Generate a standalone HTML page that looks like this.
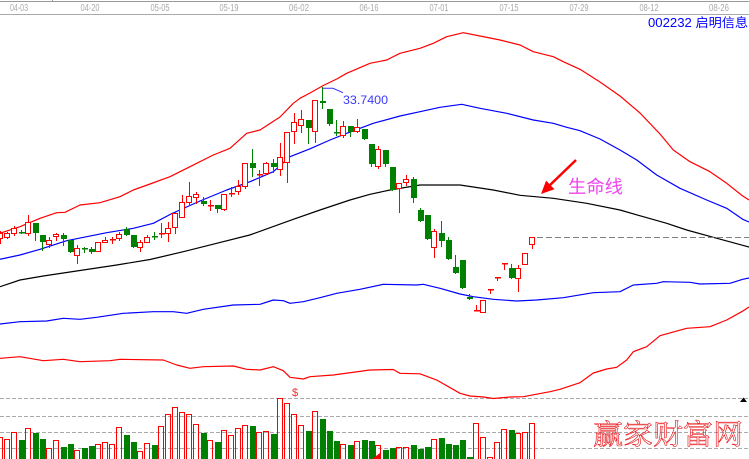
<!DOCTYPE html>
<html>
<head>
<meta charset="utf-8">
<style>
html,body{margin:0;padding:0;background:#fff;}
body{width:749px;height:459px;overflow:hidden;}
svg{display:block;}
</style>
</head>
<body>
<svg id="c" width="749" height="459" viewBox="0 0 749 459" xmlns="http://www.w3.org/2000/svg">
<rect x="0" y="0" width="749" height="459" fill="#fff"/>
<!-- top axis -->
<line x1="0" y1="1.5" x2="749" y2="1.5" stroke="#999" stroke-width="1"/>
<line x1="52.5" y1="0" x2="52.5" y2="2" stroke="#999" stroke-width="1"/>
<line x1="0" y1="14.5" x2="749" y2="14.5" stroke="#aaa" stroke-width="1"/>
<g font-family="Liberation Sans, sans-serif" font-size="10" fill="#aaa" text-anchor="middle">
<text x="19" y="11" textLength="18" lengthAdjust="spacingAndGlyphs">04-03</text>
<text x="90" y="11" textLength="19" lengthAdjust="spacingAndGlyphs">04-20</text>
<text x="160" y="11" textLength="19" lengthAdjust="spacingAndGlyphs">05-05</text>
<text x="229" y="11" textLength="19" lengthAdjust="spacingAndGlyphs">05-19</text>
<text x="299" y="11" textLength="20" lengthAdjust="spacingAndGlyphs">06-02</text>
<text x="369" y="11" textLength="19" lengthAdjust="spacingAndGlyphs">06-16</text>
<text x="439" y="11" textLength="19" lengthAdjust="spacingAndGlyphs">07-01</text>
<text x="509" y="11" textLength="19" lengthAdjust="spacingAndGlyphs">07-15</text>
<text x="579" y="11" textLength="19" lengthAdjust="spacingAndGlyphs">07-29</text>
<text x="649" y="11" textLength="19" lengthAdjust="spacingAndGlyphs">08-12</text>
<text x="719" y="11" textLength="20" lengthAdjust="spacingAndGlyphs">08-26</text>
</g>
<text x="648" y="27" font-family="Liberation Sans, 'Noto Sans CJK SC', sans-serif" font-size="12.5" fill="#0000ff" textLength="100" lengthAdjust="spacingAndGlyphs">002232 启明信息</text>

<!-- volume dashed grid -->
<g stroke="#aaa" stroke-width="1" stroke-dasharray="4 2">
<line x1="0" y1="398.5" x2="749" y2="398.5"/>
<line x1="0" y1="416.5" x2="749" y2="416.5"/>
<line x1="0" y1="432.5" x2="749" y2="432.5"/>
<line x1="0" y1="448.5" x2="749" y2="448.5"/>
</g>
<polygon points="740,402 747,402 743.5,397.5" fill="#000"/>

<!-- bands -->
<g fill="none" stroke-width="1.2" stroke-linejoin="round">
<polyline stroke="#ff0000" points="0,233.3 20,226.7 40,218.3 56.7,212.7 65,212.3 80,205 100,202.7 120,196.7 133.3,190 150,184 170,176.7 190,166.7 213.3,155 230,148.3 246.7,133.3 260,130 280,117 293.3,103.3 300,98.3 310,93 323.3,85.5 336.7,79 346.7,73.3 370,63.3 386.7,60 400,53.3 420,48.3 433.3,43.3 446.7,36.7 463.3,32.7 480,36 500,40 520,45 533.3,51.7 553.3,56.7 563.3,61.7 580,69.3 600,82 620,96 640,113 660,134 673.3,150 690,161.7 710,171.7 726.7,183.3 742.7,196 749,200"/>
<polyline stroke="#0000ff" points="0,259.3 20,255 40,249.3 66.7,240.7 86.7,236.7 106.7,232.7 133.3,228.3 153.3,223.3 172,213.5 200,201 226.7,190 250,181.7 273.3,171.7 290,156.7 310,148.8 330,140 346.7,133.3 373.3,123.3 400,116 420,111.7 440,107.3 461.7,104.3 480,108.3 506.7,113.3 533.3,120 553.3,123.3 566.7,127.3 580,130.7 600,139 620,150 636.7,160 656.7,175 680,188.3 706.7,200 726.7,208.3 742.7,219.3 749,222"/>
<polyline stroke="#000000" points="0,286.7 20,280 43.3,276 83.3,270 116.7,265 150,259.5 183.3,251.7 216.7,243.3 249.7,235 293.3,219.3 320,210 350,200 370,194.3 390,190 420,185 460,185 493.3,190 520,195.3 553.3,198.3 586.7,203.3 620,210 643.3,216.7 666.7,223.3 686.7,230 713.3,237.3 742.7,245.3 749,247"/>
<polyline stroke="#0000ff" points="0,324 20,321.7 46.7,321 63.3,318.3 80,319.3 96.7,317.3 123.3,313.3 153.3,311.7 173.3,311.7 186.7,313.3 203.3,309.3 233.3,305 260,304.3 273.3,300 283.3,300.7 290,303.3 303.3,301.7 320,297.7 336.7,293.3 360,289.3 383.3,284.3 416.7,285 423.3,284.3 440,288.3 460,294 473.3,296.7 493.3,299.3 516.7,301 536.7,300 563.3,297.7 593.3,292.7 620,291.7 633.3,285 656.7,283.3 663.3,281.7 690,282.3 700,284 730,283.3 742.7,279.3 749,278"/>
<polyline stroke="#ff0000" points="0,358.3 20,356.7 43.3,360.7 63.3,359.3 80,361.7 110,360.7 120,359.3 163.3,360 176.7,365 190,368.3 203.3,366.7 233.3,366 246.7,369.3 260,370 273.3,366.7 283.3,370.7 290,377.3 303.3,379 310,376.7 333.3,375 370,370 393.3,369.5 400,373.3 420,373.8 436.7,380 460,393.3 470,396 483.3,397 493.3,398.5 510,397 523.3,396.7 550,391.7 560,389.3 580,382.7 593.3,373 606.7,369 616.7,367.3 626.7,360 633.3,351.7 646.7,346.7 660,335.7 686.7,328.3 710,326.7 726.7,320 741.7,311.7 749,307"/>
</g>

<!-- dashed price line -->
<line x1="537" y1="237.5" x2="749" y2="237.5" stroke="#808080" stroke-width="1" stroke-dasharray="6 3"/>

<g id="candles"></g>
<g id="vols"></g>

<!-- max annotation -->
<polyline points="323,88.3 333,88.3 343,92.7" fill="none" stroke="#3333ff" stroke-width="1"/>
<text x="343" y="104" font-family="Liberation Sans, sans-serif" font-size="12" fill="#3a3aff" textLength="45" lengthAdjust="spacingAndGlyphs">33.7400</text>

<!-- arrow -->
<line x1="576" y1="160" x2="549" y2="186" stroke="#ff0000" stroke-width="2.5"/>
<polygon points="541,194 546.1,180.6 554.5,189.2" fill="#ff0000"/>
<text x="568" y="193" font-family="Liberation Sans, 'Noto Sans CJK SC', sans-serif" font-size="18" fill="#ee44ee" textLength="55" lengthAdjust="spacingAndGlyphs">生命线</text>

<text x="295" y="396" font-family="Liberation Sans, sans-serif" font-size="11" fill="#f03030" text-anchor="middle">$</text>
<polygon points="372,459 380,453 380,459" fill="#ff0000"/>

<text x="593" y="444" font-family="'Noto Serif CJK SC', 'Noto Sans CJK SC', serif" font-size="28" fill="none" stroke="#e8161b" stroke-width="0.6" textLength="150" lengthAdjust="spacingAndGlyphs">赢家财富网</text>
</svg>
<script>
(function(){
var NS="http://www.w3.org/2000/svg";
var C=[
["r",233,238,231,243],["r",233.3,236.7,231.7,238.3],["r",228.3,233.3,226,235],["gc",231.7,231.7,230,233],
["r",222.3,232.7,215,235],["g",223.3,233.3,223.3,240],["g",235,241.7,235,250],["r",240,244,236.7,246.7],
["r",234.3,236,232.7,240],["g",235,239.3,233,245],["g",240,252.3,240,252.3],["r",248.3,255,245,262.7],
["gc",248.3,248.3,246.7,251.7],["g",249,251.7,247.3,253.3],["r",242.3,251,242.3,251],["r",240,242,236.7,242],
["rc",239.3,239.3,236.7,243.3],["r",234,238.3,231.7,240],["g",229.3,235,227.3,235],["g",235,246.7,235,247.3],
["r",242.3,246.7,240,250.7],["r",237.3,241.7,235,241.7],["gc",236,236,231.7,239.3],["rc",233.3,233.3,223.3,236.7],
["r",228.3,232.7,221.7,240.7],["r",213.3,227.3,211.7,232.7],["r",201.7,216.7,195,216.7],["r",196,201.7,181.7,205],
["r",194,197.3,191.7,203.3],["g",200.7,204.3,197.3,205],["rc",205,205,200,210],["g",205,209.3,205,211.7],
["r",194,209.3,194,210],["rc",193.3,193.3,187.3,196],["r",186,190.7,180,194.3],["r",163.3,186,163,188],
["g",162.7,168.3,149,175.7],["rc",174.3,174.3,170,185],["r",163.3,173.3,161.7,174],["g",163.3,167.3,159.3,171.7],
["r",157.3,169.3,142.7,175],["r",131.7,161.7,131.7,181.7],["r",121.7,130.7,112.7,142.7],["r",119.3,125,110,131.7],
["g",120,127.7,120,142.7],["r",100,130.7,100,141.7],["g",100.7,102.5,87.3,108.3],["g",109.3,124.3,109.3,125],
["gc",131.7,131.7,120,135],["r",126,135,120.7,136.7],["g",126,132.3,126,136],["r",126.7,131,119.3,131.7],
["g",129,139.3,129,139.3],["g",144,164.3,144,165.7],["r",149,165.7,146,168.3],["g",150,164.3,150,165.7],
["g",166.7,190,166.7,190],["r",183.3,188.3,183.3,211.7],["r",179.3,182.3,175,185],["g",179.3,198.3,176.7,201.7],
["g",210,220.7,207.7,220.7],["g",215,239.3,215,239.3],["r",231,246.7,228.7,256.7],["g",233.3,240.7,220.7,245.7],
["g",240,259,237.3,259],["g",266.7,273.3,255,273.3],["g",260,287.7,260,287.7],["g",297.3,299.3,294,299.3],
["rc",310,310,305,310],["r",300,312.3,300,312.3],["rc",289.3,289.3,289.3,293.3],["rc",276.7,276.7,276.7,280],
["rc",263.3,263.3,263.3,269.3],["g",267.7,277.7,264,277.7],["r",267.7,278.3,265,290.7],["r",253.3,264.3,253.3,264.3],
["r",237.3,244.3,237.3,248.3]
];
var V=[
"r436.7","r439.3","r431.7","g440","r428.3","g433","g439","r448.3","r440.3","g447","g444","r450.3","g448","g446","r444.3","r442.3","r444.3","r427.3","g435","g442",
"r451.3","r443.3","g445","r426.3","r414.3","r407.3","r412.3","r414.3","r424.3","g433","r440.3","g442","r430.3","r435.3","r428.3","r425.3","g426","r432.3","r431.3","g434",
"r398.3","r403.3","r414","r425.3","g431","r411","g419","g431","g441","r444","g445","r441","g440","g441","r445.3","g450","g448","r447.3","r447.3","g445",
"g449","g447","r439.3","g438","g444","g445","g440","g457","r423.3","r437.3","r457.3","r442","r429","g430","r433","r432","r423"
];
var cg=document.getElementById("candles"), vg=document.getElementById("vols");
function el(tag,attrs,parent){var e=document.createElementNS(NS,tag);for(var k in attrs)e.setAttribute(k,attrs[k]);parent.appendChild(e);return e;}
var R=Math.round;
for(var i=0;i<C.length;i++){
 var d=C[i],x=0.5+7*i,t=d[0],col=(t.charAt(0)=="r")?"#ff0000":"#008000";
 var wt=R(d[3]),wb=R(d[4]),bt=R(d[1]),bb=R(d[2]);
 el("line",{x1:x,y1:wt,x2:x,y2:wb+1,stroke:col,"stroke-width":1},cg);
 if(t=="r"){
  var h=Math.max(bb-bt,2);
  el("rect",{x:7*i-2.5,y:bt+0.5,width:5,height:h,fill:"#fff",stroke:col,"stroke-width":1},cg);
 } else if(t=="g"){
  var h2=Math.max(bb-bt,2);
  el("rect",{x:7*i-2,y:bt,width:6,height:h2,fill:col},cg);
 } else {
  el("rect",{x:7*i-2,y:bt,width:6,height:1.5,fill:col},cg);
 }
}
for(var j=0;j<V.length;j++){
 var top=R(parseFloat(V[j].substring(1)));
 if(V[j].charAt(0)=="r"){
  el("rect",{x:7*j-2.5,y:top+0.5,width:5,height:463-top,fill:"none",stroke:"#ff0000","stroke-width":1},vg);
 } else {
  el("rect",{x:7*j-2,y:top,width:6,height:463-top,fill:"#008000"},vg);
 }
}
})();
</script>
</body>
</html>
